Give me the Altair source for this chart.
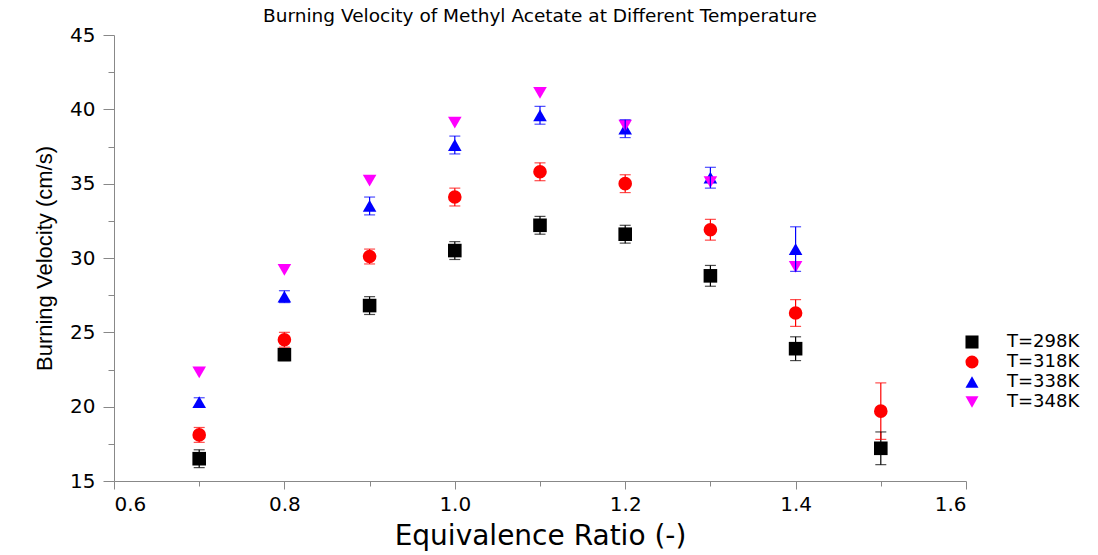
import altair as alt
import pandas as pd

# ---- data ----
series_names = ["T=298K", "T=318K", "T=338K", "T=348K"]
series_colors = ["#000000", "#ff0000", "#0000ff", "#ff00ff"]
series_shapes = ["square", "circle", "triangle-up", "triangle-down"]

phi_298 = [0.7, 0.8, 0.9, 1.0, 1.1, 1.2, 1.3, 1.4, 1.5]
vel_298 = [16.5, 23.5, 26.8, 30.5, 32.2, 31.6, 28.8, 23.9, 17.2]
err_298 = [0.6, 0.4, 0.6, 0.6, 0.6, 0.6, 0.7, 0.8, 1.1]

phi_318 = [0.7, 0.8, 0.9, 1.0, 1.1, 1.2, 1.3, 1.4, 1.5]
vel_318 = [18.1, 24.5, 30.1, 34.1, 35.8, 35.0, 31.9, 26.3, 19.7]
err_318 = [0.5, 0.5, 0.5, 0.6, 0.6, 0.6, 0.7, 0.9, 1.9]

phi_338 = [0.7, 0.8, 0.9, 1.0, 1.1, 1.2, 1.3, 1.4]
vel_338 = [20.3, 27.4, 33.5, 37.6, 39.6, 38.7, 35.4, 30.6]
err_338 = [0.3, 0.4, 0.6, 0.6, 0.6, 0.6, 0.7, 1.5]

phi_348 = [0.7, 0.8, 0.9, 1.0, 1.1, 1.2, 1.3, 1.4]
vel_348 = [22.3, 29.2, 35.2, 39.1, 41.1, 38.9, 35.1, 29.4]
err_348 = [0, 0, 0, 0, 0, 0, 0, 0]

x_ticks = [0.6, 0.7, 0.8, 0.9, 1.0, 1.1, 1.2, 1.3, 1.4, 1.5, 1.6]
y_ticks = [15, 17.5, 20, 22.5, 25, 27.5, 30, 32.5, 35, 37.5, 40, 42.5, 45]

title_text = "Burning Velocity of Methyl Acetate at Different Temperature"
x_title = "Equivalence Ratio (-)"
y_title = "Burning Velocity (cm/s)"

# ---- build table ----
frames = []
for name, p, v, e in zip(
    series_names,
    [phi_298, phi_318, phi_338, phi_348],
    [vel_298, vel_318, vel_338, vel_348],
    [err_298, err_318, err_338, err_348],
):
    frames.append(pd.DataFrame({"phi": p, "vel": v, "err": e, "series": name}))
df = pd.concat(frames, ignore_index=True)
df["lo"] = df["vel"] - df["err"]
df["hi"] = df["vel"] + df["err"]
df_err = df[df["err"] > 0]

FONT = "DejaVu Sans"

x_scale = alt.Scale(domain=[0.6, 1.6], nice=False, zero=False)
y_scale = alt.Scale(domain=[15, 45], nice=False, zero=False)
color_scale = alt.Scale(domain=series_names, range=series_colors)
shape_scale = alt.Scale(domain=series_names, range=series_shapes)

x_axis = alt.Axis(
    values=x_ticks,
    labelExpr="round(datum.value*10) % 2 == 0 ? format(datum.value, '.1f') : ''",
    tickSize={"condition": {"test": "round(datum.value*10) % 2 == 0", "value": 8}, "value": 5},
    title=x_title,
    titleFont=FONT,
    titleFontSize=28,
    titleFontWeight="normal",
    titlePadding=8,
    labelFont=FONT,
    labelFontSize=20,
    labelPadding=5,
    grid=False,
)
y_axis = alt.Axis(
    values=y_ticks,
    labelExpr="datum.value % 5 == 0 ? format(datum.value, 'd') : ''",
    tickSize={"condition": {"test": "datum.value % 5 == 0", "value": 11}, "value": 6},
    title=y_title,
    titleFont="Liberation Sans",
    titleFontSize=22,
    titleFontWeight="normal",
    titlePadding=13,
    labelFont=FONT,
    labelFontSize=20,
    labelPadding=8,
    grid=False,
)

legend = alt.Legend(
    title=None,
    orient="none",
    legendX=849,
    legendY=298,
    labelFont=FONT,
    labelFontSize=18,
    labelColor="#000000",
    labelOffset=26,
    rowPadding=2,
    symbolSize=170,
    symbolStrokeWidth=0,
    symbolOpacity=1,
    padding=0,
)

color_enc = alt.Color("series:N", scale=color_scale, sort=series_names, legend=legend)

points = alt.Chart(df).mark_point(filled=True, opacity=1, size=185).encode(
    x=alt.X("phi:Q", scale=x_scale, axis=x_axis),
    y=alt.Y("vel:Q", scale=y_scale, axis=y_axis),
    color=color_enc,
    shape=alt.Shape("series:N", scale=shape_scale, sort=series_names, legend=legend),
)

err_rule = alt.Chart(df_err).mark_rule(strokeWidth=1.2).encode(
    x=alt.X("phi:Q", scale=x_scale, axis=x_axis),
    y=alt.Y("lo:Q", scale=y_scale, axis=y_axis),
    y2="hi:Q",
    color=color_enc,
)
err_cap_lo = alt.Chart(df_err).mark_tick(orient="horizontal", size=11, thickness=1.2).encode(
    x=alt.X("phi:Q", scale=x_scale, axis=x_axis),
    y=alt.Y("lo:Q", scale=y_scale, axis=y_axis),
    color=color_enc,
)
err_cap_hi = alt.Chart(df_err).mark_tick(orient="horizontal", size=11, thickness=1.2).encode(
    x=alt.X("phi:Q", scale=x_scale, axis=x_axis),
    y=alt.Y("hi:Q", scale=y_scale, axis=y_axis),
    color=color_enc,
)

chart = (
    alt.layer(points, err_rule, err_cap_lo, err_cap_hi)
    .properties(
        width=852,
        height=446,
        view=alt.ViewBackground(stroke="transparent", strokeWidth=0),
        title=alt.TitleParams(
            text=title_text,
            font=FONT,
            fontSize=18.5,
            fontWeight="normal",
            anchor="middle",
            offset=0,
            color="#000000",
        ),
        autosize=alt.AutoSizeParams(type="none"),
        padding={"left": 114, "top": 35, "right": 132, "bottom": 74},
    )
    .configure_view(strokeWidth=0, stroke="transparent")
    .configure_axis(
        grid=False,
        domainColor="#000000",
        domainWidth=1.5,
        tickColor="#000000",
        tickWidth=1.5,
        labelColor="#000000",
        titleColor="#000000",
    )
    .configure(background="#ffffff")
)

chart.save("out.html", embed_options={"renderer": "svg", "actions": False})
